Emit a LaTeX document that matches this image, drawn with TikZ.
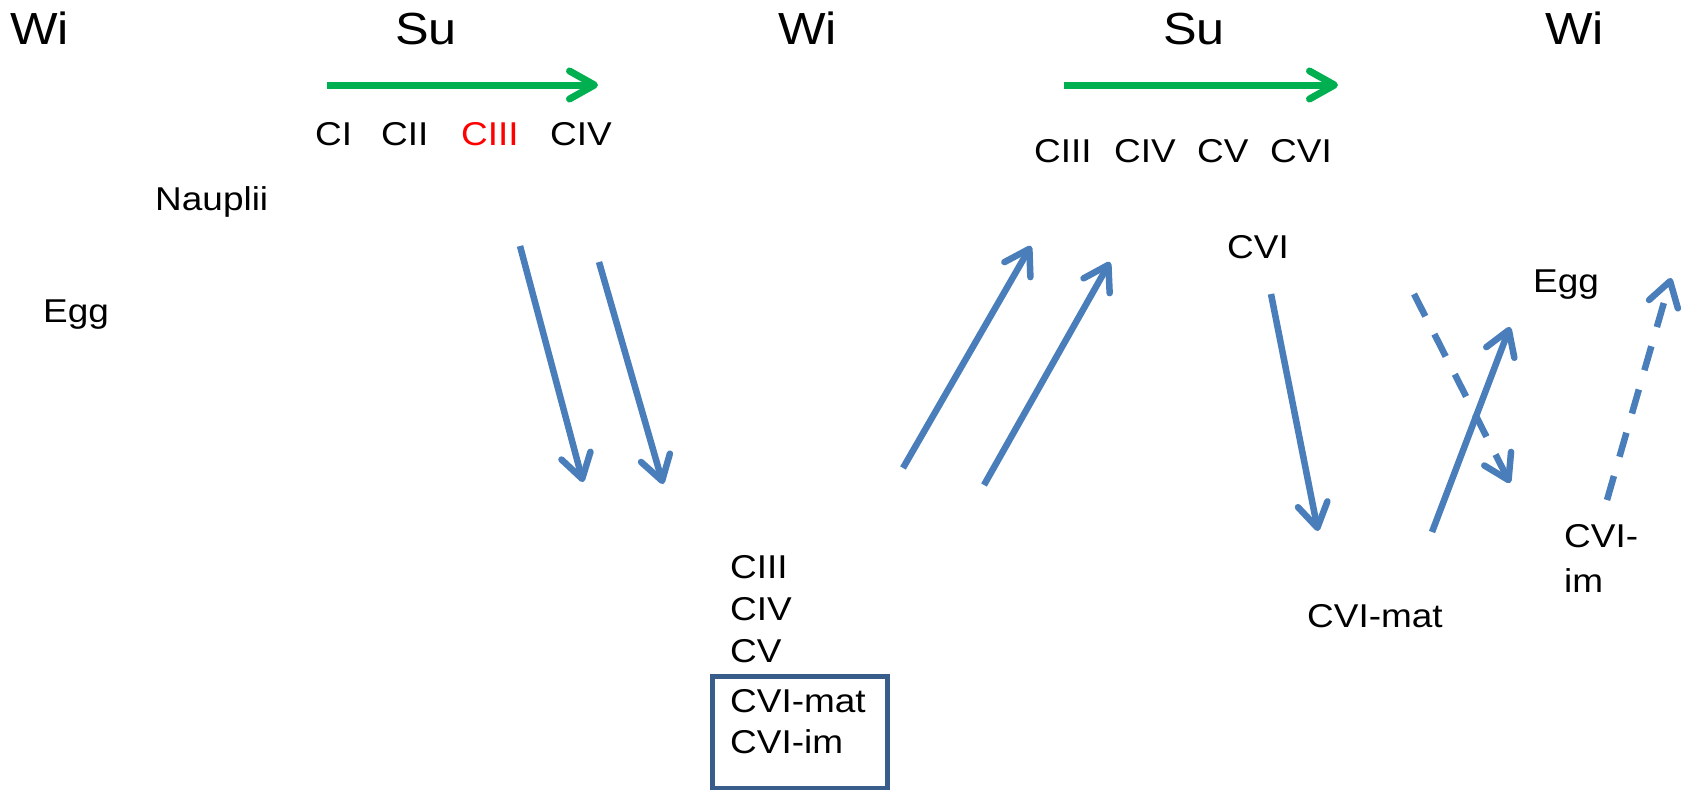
\documentclass[tikz,border=0pt]{standalone}
\usepackage{fontspec}
\setmainfont{Liberation Sans}
\usetikzlibrary{arrows.meta}
\definecolor{arrowblue}{HTML}{4A7EBB}
\definecolor{boxblue}{HTML}{385D8A}
\definecolor{tgreen}{HTML}{00B050}
\definecolor{tred}{HTML}{FF0000}
\begin{document}
\begin{tikzpicture}[x=1pt,y=-1pt,
  big/.style={font=\fontsize{45}{54}\selectfont, inner sep=0pt, anchor=base west, xscale=1.12},
  small/.style={font=\fontsize{33}{40}\selectfont, inner sep=0pt, anchor=base west, xscale=1.12},
  blarrow/.style={draw=arrowblue, line width=6.5pt, -{Straight Barb[length=24pt,width=30pt,round]}},
  dasharrow/.style={blarrow, dash pattern=on 25pt off 20pt},
  grarrow/.style={draw=tgreen, line width=7pt, -{Straight Barb[length=25pt,width=28pt,round]}},
  stagebox/.style={draw=boxblue, line width=5pt, inner sep=0pt}]
\useasboundingbox[fill=white] (0,0) rectangle (1690,790);

% season headers
\node[big] (wi1) at (10,44) {Wi};
\node[big] (su1) at (395,44) {Su};
\node[big] (wi2) at (778,44) {Wi};
\node[big] (su2) at (1163,44) {Su};
\node[big] (wi3) at (1545,44) {Wi};

% green progress arrows
\coordinate (g1s) at (327,85);
\coordinate (g1e) at (598,85);
\coordinate (g2s) at (1064,85);
\coordinate (g2e) at (1338,85);
\draw[grarrow] (g1s) -- (g1e);
\draw[grarrow] (g2s) -- (g2e);

% first summer stages
\node[small] (ci) at (315,145) {CI};
\node[small] (cii) at (381,145) {CII};
\node[small, text=tred] (ciii) at (461,145) {CIII};
\node[small] (civ) at (550,145) {CIV};

% second summer stages
\node[small] (sciii) at (1034,162) {CIII};
\node[small] (sciv) at (1114,162) {CIV};
\node[small] (scv) at (1197,162) {CV};
\node[small] (scvi) at (1270,162) {CVI};

\node[small] (naup) at (155,210) {Nauplii};
\node[small] (egg1) at (43,322) {Egg};
\node[small] (cvi) at (1227,258) {CVI};
\node[small] (egg2) at (1533,292) {Egg};
\node[small] (cvia) at (1564,547) {CVI-};
\node[small] (cvib) at (1564,592) {im};
\node[small] (cvimat) at (1307,627) {CVI-mat};

% winter stack
\node[small] (m1) at (730,578) {CIII};
\node[small] (m2) at (730,620) {CIV};
\node[small] (m3) at (730,662) {CV};
\node[small] (m4) at (730,712) {CVI-mat};
\node[small] (m5) at (730,753) {CVI-im};
\node[stagebox, minimum width=175pt, minimum height=112pt] (box) at (799.5,732) {};

% blue arrows
\coordinate (a1s) at (520,246); \coordinate (a1e) at (583,482);
\coordinate (a2s) at (599,262); \coordinate (a2e) at (663,484);
\coordinate (a3s) at (903,468); \coordinate (a3e) at (1031,246);
\coordinate (a4s) at (984,485); \coordinate (a4e) at (1110,262);
\coordinate (a5s) at (1271,294); \coordinate (a5e) at (1318,531);
\coordinate (a6s) at (1414,294); \coordinate (a6e) at (1510,483);
\coordinate (a7s) at (1432,532); \coordinate (a7e) at (1510,327);
\coordinate (a8s) at (1607,500); \coordinate (a8e) at (1671,278);
\draw[blarrow] (a1s) -- (a1e);
\draw[blarrow] (a2s) -- (a2e);
\draw[blarrow] (a3s) -- (a3e);
\draw[blarrow] (a4s) -- (a4e);
\draw[blarrow] (a5s) -- (a5e);
\draw[dasharrow] (a6s) -- (a6e);
\draw[blarrow] (a7s) -- (a7e);
\draw[dasharrow] (a8s) -- (a8e);
\end{tikzpicture}
\end{document}
